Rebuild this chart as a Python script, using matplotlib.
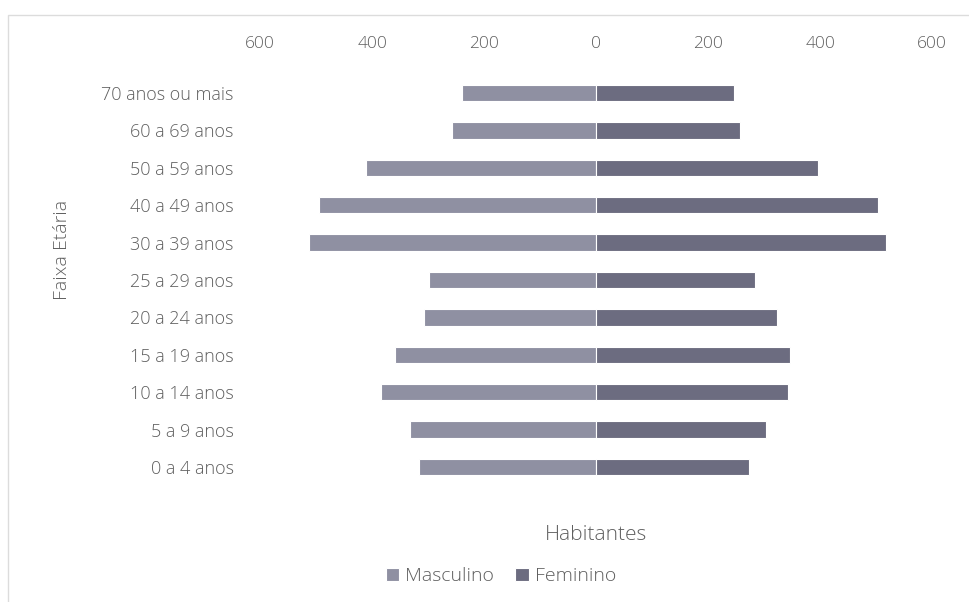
import matplotlib.pyplot as plt
from matplotlib.patches import Rectangle

faixas = ['0 a 4 anos', '5 a 9 anos', '10 a 14 anos', '15 a 19 anos',
          '20 a 24 anos', '25 a 29 anos', '30 a 39 anos', '40 a 49 anos',
          '50 a 59 anos', '60 a 69 anos', '70 anos ou mais']
masculino = [316, 332, 384, 359, 308, 299, 512, 494, 410, 257, 239]
feminino = [273, 304, 343, 347, 323, 283, 517, 503, 396, 257, 246]
xticks = [-600, -400, -200, 0, 200, 400, 600]

plt.rcParams['font.family'] = ['Open Sans', 'DejaVu Sans']
plt.rcParams['font.weight'] = 'light'
cor_texto = '#5f5f5f'

fig = plt.figure(figsize=(9.69, 6.02), dpi=100)
ax = fig.add_axes([0.2684, 0.1932, 0.6935, 0.6834])

pos = range(len(faixas))
ax.barh(pos, [-v for v in masculino], height=0.44, color='#8f90a2',
        edgecolor='white', linewidth=0.8, label='Masculino')
ax.barh(pos, feminino, height=0.44, color='#6c6c80',
        edgecolor='white', linewidth=0.8, label='Feminino')

ax.set_xlim(-600, 600)
ax.set_ylim(-0.5, len(faixas) - 0.5)
ax.set_xticks(xticks)
ax.set_xticklabels([str(abs(t)) for t in xticks])
ax.xaxis.tick_top()
ax.set_yticks(list(pos))
ax.set_yticklabels(faixas)
ax.tick_params(axis='x', length=0, pad=16, labelsize=12.5, colors=cor_texto)
ax.tick_params(axis='y', length=0, pad=19, labelsize=13, colors=cor_texto)
for s in ax.spines.values():
    s.set_visible(False)

fig.text(0.064, 0.585, 'Faixa Etária', rotation=90, ha='center', va='center',
         fontsize=14, color=cor_texto)
fig.text(0.615, 0.111, 'Habitantes', ha='center', va='center',
         fontsize=15, color=cor_texto)

leg = fig.legend(loc='center', bbox_to_anchor=(0.517, 0.043), ncol=2,
                 frameon=False, fontsize=14, handlelength=0.7,
                 handleheight=0.7, handletextpad=0.3, columnspacing=1.1)
for t in leg.get_texts():
    t.set_color(cor_texto)

# moldura clara da área do gráfico
fig.patches.append(Rectangle((0.008, -0.05), 1.2, 1.025, transform=fig.transFigure,
                             fill=False, edgecolor='#dcdcdc', linewidth=1))

fig.savefig('out.png', dpi=100)
